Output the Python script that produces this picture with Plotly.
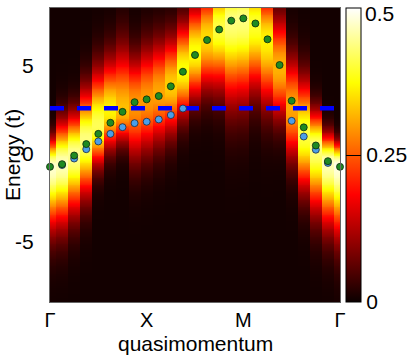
import numpy as np
import plotly.graph_objects as go

# ---- data ----
k_index = list(range(25))
tick_pos = [0, 8, 16, 24]
tick_labels = ["Γ", "X", "M", "Γ"]

band_green = [-0.72, -0.57, -0.08, 0.57, 1.15, 1.78, 2.40, 2.95, 3.11, 3.30, 3.85, 4.68,
              5.63, 6.48, 7.08, 7.58, 7.71, 7.42, 6.52, 5.06, 3.03, 1.52, 0.49, -0.40, -0.72]
band_blue = [None, -0.62, -0.25, 0.28, 0.72, 1.15, 1.53, 1.76, 1.84, 1.97, 2.22, 2.59,
             None, None, None, None, None, None, None, None, 1.89, 1.00, 0.25, -0.50, None]
fermi_level = 2.61

# spectral peak parameters per k point
peak_center = [-0.72, -0.55, 0.0, 0.8, 1.6, 2.4, 2.5, 2.8, 3.1, 3.5, 3.9, 4.8,
               5.8, 6.6, 7.2, 7.6, 7.7, 7.4, 6.5, 4.9, 2.6, 1.1, 0.4, -0.45, -0.6]
peak_height = [0.47, 0.46, 0.44, 0.43, 0.41, 0.36, 0.32, 0.29, 0.29, 0.30, 0.33, 0.37,
               0.37, 0.34, 0.40, 0.43, 0.43, 0.39, 0.36, 0.31, 0.30, 0.40, 0.43, 0.46, 0.48]
sigma_below = [2.2, 2.2, 2.1, 2.0, 1.4, 1.35, 1.2, 2.0, 1.95, 1.9, 1.8, 1.7,
               1.7, 1.9, 2.2, 2.9, 2.9, 2.4, 2.4, 1.9, 1.9, 2.0, 2.3, 2.3, 2.5]
sigma_above = [1.0, 1.5, 1.45, 1.8, 2.0, 1.95, 2.3, 1.8, 1.95, 1.9, 1.8, 1.7,
               1.7, 1.7, 1.7, 1.7, 1.7, 1.7, 1.7, 1.9, 1.9, 2.0, 1.3, 1.0, 0.8]
background = 0.006

cbar_ticks = [0.0005, 0.25]
cbar_ticktext = ["0", "0.25"]
cbar_top_label = "0.5"

energy = np.arange(-8.4, 8.31, 0.05)

# build spectral map from the per-k peak parameters
z = np.zeros((len(energy), len(k_index)))
for j in range(len(k_index)):
    d = energy - peak_center[j]
    s = np.where(d < 0, sigma_below[j], sigma_above[j])
    z[:, j] = background + peak_height[j] * np.exp(-0.5 * (d / s) ** 2)

hot = [[0.0, "rgb(11,0,0)"], [0.365, "rgb(255,0,0)"],
       [0.746, "rgb(255,255,0)"], [1.0, "rgb(255,255,255)"]]

FONT = "Liberation Sans, Arial, sans-serif"
FS = 21

fig = go.Figure()
fig.add_trace(go.Heatmap(
    x=k_index, y=energy, z=z, zmin=0, zmax=0.5, colorscale=hot, zsmooth=False,
    colorbar=dict(
        xref="paper", x=(346 - 50) / 290, xanchor="left", xpad=0, ypad=0,
        yref="paper", y=0.5, yanchor="middle", len=1, lenmode="fraction",
        thickness=15, outlinewidth=1, outlinecolor="black",
        tickvals=cbar_ticks, ticktext=cbar_ticktext,
        ticks="inside", ticklen=15, tickcolor="black", tickwidth=1,
        ticklabeloverflow="allow",
        tickfont=dict(family=FONT, size=FS, color="black"),
    ),
    hoverinfo="skip",
))
fig.add_trace(go.Scatter(
    x=[0, 24], y=[fermi_level, fermi_level], mode="lines",
    line=dict(color="#0000ff", width=4.5, dash="14px,13px"), showlegend=False,
))
fig.add_trace(go.Scatter(
    x=k_index, y=band_blue, mode="markers",
    marker=dict(size=7, color="#4a9ee8", line=dict(color="#1a2a40", width=0.8)),
    showlegend=False, cliponaxis=False,
))
fig.add_trace(go.Scatter(
    x=k_index, y=band_green, mode="markers",
    marker=dict(size=7, color="#1f8a22", line=dict(color="#0a2a0a", width=0.8)),
    showlegend=False, cliponaxis=False,
))

fig.update_layout(
    width=413, height=355,
    margin=dict(l=50, r=73, t=8, b=53, autoexpand=False),
    paper_bgcolor="white", plot_bgcolor="black",
    font=dict(family=FONT, size=FS, color="black"),
    showlegend=False,
    xaxis=dict(range=[0, 24], tickvals=tick_pos, ticktext=tick_labels,
               showgrid=False, zeroline=False, ticks="", showline=True, mirror=True,
               linecolor="#666", linewidth=1, ticklabelstandoff=0,
               tickfont=dict(family=FONT, size=20)),
    yaxis=dict(range=[-8.4, 8.3], tickvals=[-5, 0, 5], ticktext=["-5", "0", "5"],
               showgrid=False, zeroline=False, ticks="", showline=True, mirror=True,
               linecolor="#666", linewidth=1, ticklabelstandoff=11,
               tickfont=dict(family=FONT, size=FS)),
    annotations=[
        dict(text="quasimomentum", xref="paper", yref="paper", x=0.5, y=-(343 - 302) / 294,
             xanchor="center", yanchor="middle", showarrow=False,
             font=dict(family=FONT, size=FS)),
        dict(text="Energy (t)", xref="paper", yref="paper", x=(12 - 50) / 290, y=0.5,
             xanchor="center", yanchor="middle", textangle=-90, showarrow=False,
             font=dict(family=FONT, size=FS)),
        dict(text=cbar_top_label, xref="paper", yref="paper", x=(363 - 50) / 290,
             y=(302 - 13) / 294, xanchor="left", yanchor="middle", showarrow=False,
             font=dict(family=FONT, size=FS)),
    ],
)

fig.write_html("out.html")
